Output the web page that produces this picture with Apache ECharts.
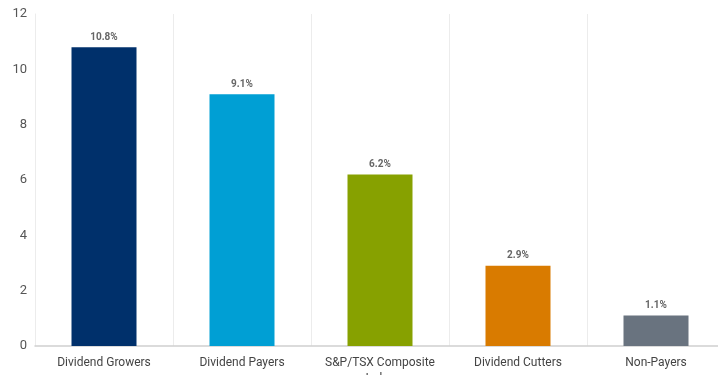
<!DOCTYPE html>
<html>
<head>
<meta charset="utf-8">
<script src="https://cdn.jsdelivr.net/npm/echarts@6/dist/echarts.min.js"></script>
<style>
  html, body { margin: 0; padding: 0; background: #fff; }
  #chart { width: 718px; height: 375px; }
</style>
</head>
<body>
<div id="chart"></div>
<script>
const categories = ['Dividend Growers', 'Dividend Payers', 'S&P/TSX Composite\nIndex', 'Dividend Cutters', 'Non-Payers']
const returns = [10.8, 9.1, 6.2, 2.9, 1.1]
const barColors = ['#00306b', '#009fd4', '#87a100', '#d97b00', '#69737f']

const chart = echarts.init(document.getElementById('chart'))

chart.setOption({
  backgroundColor: '#fff',
  animation: false,
  grid: { left: 35, top: 14, width: 690, height: 332, containLabel: false, outerBoundsMode: 'none' },
  xAxis: {
    type: 'category',
    data: categories,
    axisLine: { lineStyle: { color: '#cfcfcf', width: 1.5 } },
    axisTick: { show: false },
    axisLabel: { interval: 0, color: '#444', fontSize: 12, fontFamily: 'Roboto', margin: 9, lineHeight: 16 },
    splitLine: { show: true, interval: 0, lineStyle: { color: '#ececec', width: 1 } },
  },
  yAxis: {
    type: 'value',
    min: 0,
    max: 12,
    interval: 2,
    axisLine: { show: true, lineStyle: { color: '#ececec' } },
    axisTick: { show: false },
    axisLabel: { color: '#555', fontSize: 13, fontFamily: 'Roboto', margin: 8 },
    splitLine: { show: false },
  },
  series: [{
    type: 'bar',
    barWidth: 65,
    data: returns.map((v, i) => ({ value: v, itemStyle: { color: barColors[i] } })),
    label: {
      show: true,
      position: 'top',
      distance: 5,
      color: '#666',
      fontSize: 10,
      fontWeight: 'bold',
      fontFamily: 'Roboto',
      formatter: p => p.value.toFixed(1) + '%',
    },
  }],
})
</script>
</body>
</html>
